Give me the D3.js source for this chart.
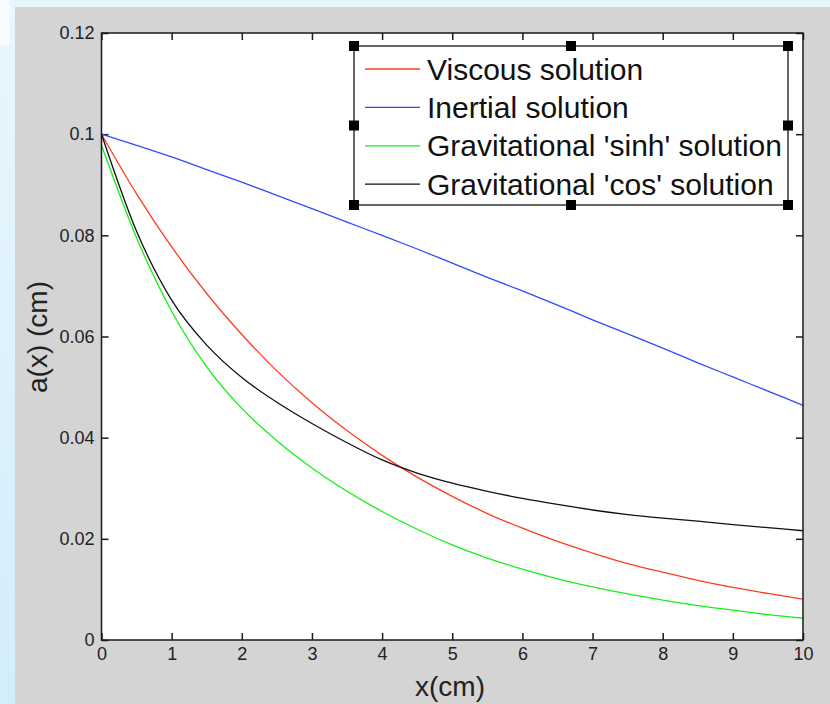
<!DOCTYPE html>
<html>
<head>
<meta charset="utf-8">
<script src="https://cdn.jsdelivr.net/npm/d3@7"></script>
<style>
  html, body { margin: 0; padding: 0; }
  body {
    width: 830px; height: 704px; overflow: hidden;
    background: #e6f4fc;
    font-family: "Liberation Sans", Arial, sans-serif;
  }
</style>
</head>
<body>
<div id="chart"></div>
<script>
var xs = [0, 0.5, 1, 1.5, 2, 2.5, 3, 3.5, 4, 4.5, 5, 5.5, 6, 6.5, 7, 7.5, 8, 8.5, 9, 9.5, 10];

var viscous = [0.1, 0.0882, 0.0777, 0.0685, 0.0604, 0.0532, 0.0469, 0.0414, 0.0365, 0.0322, 0.0284,
  0.025, 0.0221, 0.0195, 0.0172, 0.0151, 0.0134, 0.0118, 0.0104, 0.0092, 0.0081];
var inertial = [0.1, 0.0978, 0.0955, 0.093, 0.0905, 0.0879, 0.0853, 0.0826, 0.08, 0.0773, 0.0745,
  0.0717, 0.069, 0.0662, 0.0633, 0.0605, 0.0577, 0.0548, 0.052, 0.0492, 0.0464];
var gravSinh = [0.0978, 0.0795, 0.065, 0.054, 0.0458, 0.0394, 0.034, 0.0294, 0.0254, 0.0219, 0.0188,
  0.0162, 0.014, 0.0121, 0.0105, 0.0091, 0.0079, 0.0068, 0.0059, 0.005, 0.0043];
var gravCos = [0.1, 0.0808, 0.0672, 0.0583, 0.0519, 0.047, 0.0428, 0.039, 0.0356, 0.033, 0.031,
  0.0294, 0.028, 0.0268, 0.0257, 0.0248, 0.0241, 0.0235, 0.0228, 0.0222, 0.0216];

var seriesNames = ["Viscous solution", "Inertial solution", "Gravitational 'sinh' solution", "Gravitational 'cos' solution"];
var seriesColors = ["#ff3c1e", "#2f4cff", "#14f014", "#111111"];

var xTicks = [0, 1, 2, 3, 4, 5, 6, 7, 8, 9, 10];
var xTickLabels = ["0", "1", "2", "3", "4", "5", "6", "7", "8", "9", "10"];
var yTicks = [0, 0.02, 0.04, 0.06, 0.08, 0.1, 0.12];
var yTickLabels = ["0", "0.02", "0.04", "0.06", "0.08", "0.1", "0.12"];

var svg = d3.select("#chart").append("svg")
  .attr("width", 830)
  .attr("height", 704);

// page background: light blue strip on the left, grey figure window
var defs = svg.append("defs");
var grad = defs.append("linearGradient").attr("id", "strip")
  .attr("x1", 0).attr("y1", 0).attr("x2", 0).attr("y2", 1);
grad.append("stop").attr("offset", "0%").attr("stop-color", "#e9f6fd");
grad.append("stop").attr("offset", "100%").attr("stop-color", "#d3edfb");
svg.append("rect").attr("x", 0).attr("y", 0).attr("width", 15).attr("height", 704).style("fill", "url(#strip)");
svg.append("rect").attr("x", 0).attr("y", 0).attr("width", 10).attr("height", 45).style("fill", "#f8fcfe");
svg.append("rect").attr("x", 15).attr("y", 7).attr("width", 815).attr("height", 697).style("fill", "#d4d4d4");

var margin = { top: 33, left: 101.5 },
  width = 803 - 101.5,
  height = 640 - 33;

var g = svg.append("g")
  .attr("transform", "translate(" + margin.left + "," + margin.top + ")");

var x = d3.scaleLinear().domain([0, 10]).range([0, width]);
var y = d3.scaleLinear().domain([0, 0.12]).range([height, 0]);

g.append("rect")
  .attr("width", width)
  .attr("height", height)
  .style("fill", "#ffffff");

var tickFont = "18px";

var xAxis = d3.axisBottom(x).tickValues(xTicks)
  .tickFormat(function (d, i) { return xTickLabels[i]; })
  .tickSizeInner(-7).tickSizeOuter(0).tickPadding(7);
var yAxis = d3.axisLeft(y).tickValues(yTicks)
  .tickFormat(function (d, i) { return yTickLabels[i]; })
  .tickSizeInner(-7).tickSizeOuter(0).tickPadding(7);

var gx = g.append("g").attr("transform", "translate(0," + height + ")").call(xAxis);
var gy = g.append("g").call(yAxis);
var gxTop = g.append("g").call(d3.axisTop(x).tickValues(xTicks).tickFormat("").tickSizeInner(-7).tickSizeOuter(0));
var gyRight = g.append("g").attr("transform", "translate(" + width + ",0)")
  .call(d3.axisRight(y).tickValues(yTicks).tickFormat("").tickSizeInner(-7).tickSizeOuter(0));

[gx, gy, gxTop, gyRight].forEach(function (a) {
  a.selectAll("path.domain").remove();
  a.selectAll("line").style("stroke", "#1a1a1a").style("stroke-width", 1.5);
  a.selectAll("text")
    .style("font-family", "'Liberation Sans', Arial, sans-serif")
    .style("font-size", tickFont)
    .style("fill", "#222");
});

// the curves
var allSeries = [viscous, inertial, gravSinh, gravCos];
var line = d3.line()
  .x(function (d, i) { return x(xs[i]); })
  .y(function (d) { return y(d); })
  .curve(d3.curveMonotoneX);

g.selectAll(".curve")
  .data(allSeries)
  .enter()
  .append("path")
  .attr("class", "curve")
  .attr("d", line)
  .style("fill", "none")
  .style("stroke", function (d, i) { return seriesColors[i]; })
  .style("stroke-width", 1.3);

// axes frame
g.append("rect")
  .attr("width", width)
  .attr("height", height)
  .style("fill", "none")
  .style("stroke", "#1a1a1a")
  .style("stroke-width", 1.5);

// axis titles
svg.append("text")
  .attr("x", 450)
  .attr("y", 696)
  .attr("text-anchor", "middle")
  .style("font-size", "28px")
  .style("fill", "#222")
  .text("x(cm)");

svg.append("text")
  .attr("transform", "translate(47,337) rotate(-90)")
  .attr("text-anchor", "middle")
  .style("font-size", "28px")
  .style("fill", "#222")
  .text("a(x) (cm)");

// legend
var lx = 354, ly = 46, lw = 434, lh = 159;
var legend = svg.append("g");
legend.append("rect")
  .attr("x", lx).attr("y", ly).attr("width", lw).attr("height", lh)
  .style("fill", "#ffffff")
  .style("stroke", "#333")
  .style("stroke-width", 1.5);

var rows = legend.selectAll(".row")
  .data(seriesNames)
  .enter()
  .append("g")
  .attr("class", "row")
  .attr("transform", function (d, i) { return "translate(0," + (69 + i * 38.4) + ")"; });

rows.append("line")
  .attr("x1", 365).attr("x2", 420)
  .style("stroke", function (d, i) { return seriesColors[i]; })
  .style("stroke-width", 1.3);

rows.append("text")
  .attr("x", 427)
  .attr("y", 10.5)
  .style("font-size", "30px")
  .style("fill", "#111")
  .text(function (d) { return d; });

// selection handles around the legend
var handles = [[0, 0], [0.5, 0], [1, 0], [0, 0.5], [1, 0.5], [0, 1], [0.5, 1], [1, 1]];
legend.selectAll(".handle")
  .data(handles)
  .enter()
  .append("rect")
  .attr("class", "handle")
  .attr("x", function (d) { return lx + d[0] * lw - 5; })
  .attr("y", function (d) { return ly + d[1] * lh - 5; })
  .attr("width", 10)
  .attr("height", 10)
  .style("fill", "#000");
</script>
</body>
</html>
